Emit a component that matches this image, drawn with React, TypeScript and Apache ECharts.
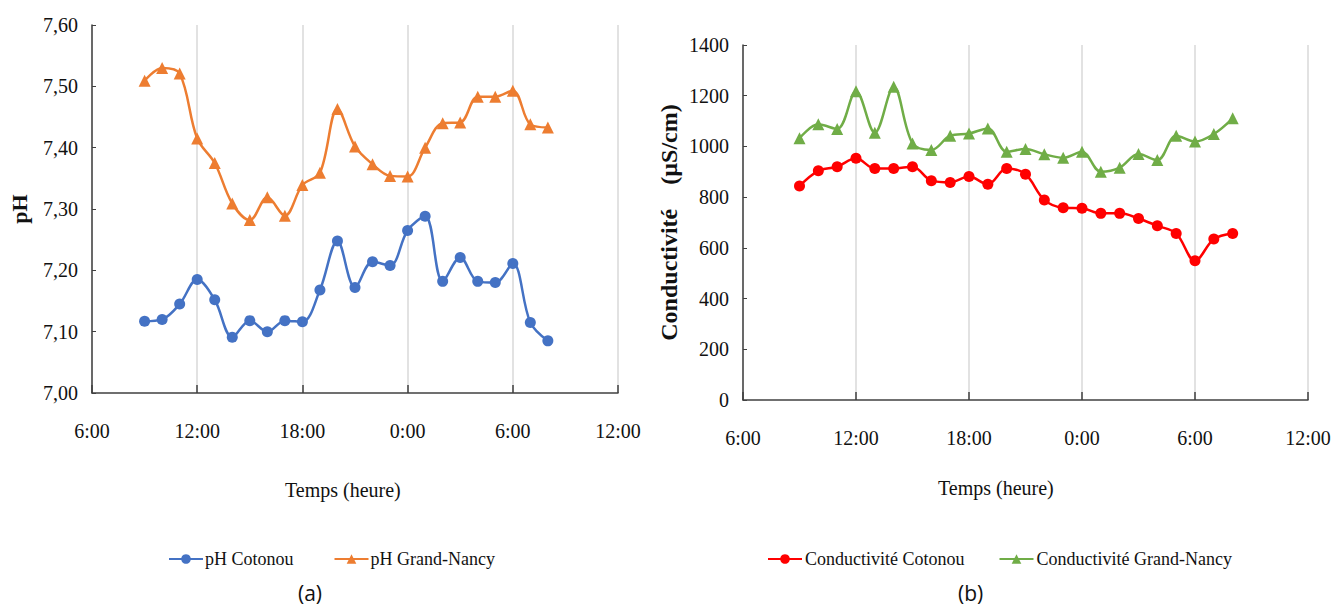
import React, { useEffect, useRef } from "react";
import * as echarts from "echarts";

const hours = [9, 10, 11, 12, 13, 14, 15, 16, 17, 18, 19, 20, 21, 22, 23, 24, 25, 26, 27, 28, 29, 30, 31, 32];
const phCotonou = [7.117, 7.12, 7.145, 7.185, 7.152, 7.091, 7.118, 7.10, 7.118, 7.116, 7.168, 7.248, 7.172, 7.214, 7.208, 7.265, 7.288, 7.182, 7.221, 7.182, 7.18, 7.211, 7.115, 7.085];
const phNancy = [7.509, 7.53, 7.521, 7.415, 7.375, 7.309, 7.282, 7.319, 7.289, 7.339, 7.359, 7.463, 7.402, 7.373, 7.354, 7.353, 7.40, 7.44, 7.441, 7.483, 7.483, 7.493, 7.438, 7.433];
const condCotonou = [844, 904, 920, 953, 913, 913, 920, 865, 858, 881, 851, 913, 890, 789, 758, 756, 736, 736, 716, 687, 657, 549, 635, 657];
const condNancy = [1032, 1087, 1069, 1218, 1054, 1235, 1012, 986, 1042, 1051, 1071, 979, 990, 969, 955, 979, 900, 916, 970, 946, 1042, 1019, 1049, 1111];

const SERIF = "'Liberation Serif', 'DejaVu Serif', serif";
const SANS = "'Open Sans', 'Liberation Sans', sans-serif";
const AXIS_COLOR = "#404040";

const pair = (vals: number[]) => hours.map((h, i) => [h, vals[i]]);

const xAxisBase = (gridIndex: number, margin: number) => ({
  type: "value" as const,
  gridIndex,
  min: 6,
  max: 36,
  interval: 6,
  axisLine: { show: true, lineStyle: { color: AXIS_COLOR, width: 1.5 } },
  axisTick: { show: true, inside: true, length: 8, lineStyle: { color: AXIS_COLOR, width: 1.5 } },
  axisLabel: {
    formatter: (v: number) => `${v % 24}:00`,
    fontFamily: SERIF,
    fontSize: 20,
    color: "#111",
    margin,
  },
  splitLine: { show: true, lineStyle: { color: "#d9d9d9", width: 1.5 } },
});

export default function App() {
  const ref = useRef<HTMLDivElement>(null);
  useEffect(() => {
    if (!ref.current) return;
    const chart = echarts.init(ref.current, null, { renderer: "svg" });
    chart.setOption({
      animation: false,
      backgroundColor: "#ffffff",
      grid: [
        { left: 92, top: 25, width: 526, height: 368 },
        { left: 743, top: 45, width: 565, height: 355 },
      ],
      xAxis: [xAxisBase(0, 28), xAxisBase(1, 28)],
      yAxis: [
        {
          type: "value",
          gridIndex: 0,
          min: 7,
          max: 7.6,
          interval: 0.1,
          name: "pH",
          nameLocation: "middle",
          nameGap: 62,
          nameTextStyle: { fontFamily: SERIF, fontSize: 22, fontWeight: "bold", color: "#111" },
          axisLine: { show: true, lineStyle: { color: AXIS_COLOR, width: 1.5 } },
          axisTick: { show: true, inside: true, length: 4, lineStyle: { color: AXIS_COLOR } },
          axisLabel: {
            formatter: (v: number) => v.toFixed(2).replace(".", ","),
            fontFamily: SERIF,
            fontSize: 20,
            color: "#111",
            margin: 14,
          },
          splitLine: { show: false },
        },
        {
          type: "value",
          gridIndex: 1,
          min: 0,
          max: 1400,
          interval: 200,
          name: "Conductivité    (µS/cm)",
          nameLocation: "middle",
          nameGap: 62,
          nameTextStyle: { fontFamily: SERIF, fontSize: 24, fontWeight: "bold", color: "#111" },
          axisLine: { show: true, lineStyle: { color: AXIS_COLOR, width: 1.5 } },
          axisTick: { show: true, inside: true, length: 4, lineStyle: { color: AXIS_COLOR } },
          axisLabel: {
            formatter: (v: number) => String(v),
            fontFamily: SERIF,
            fontSize: 20,
            color: "#111",
            margin: 14,
          },
          splitLine: { show: false },
        },
      ],
      legend: [
        {
          left: 163,
          top: 545,
          itemWidth: 34,
          itemHeight: 12,
          itemGap: 40,
          textStyle: { fontFamily: SERIF, fontSize: 18, color: "#111", padding: [0, 0, 0, -3] },
          data: ["pH Cotonou", "pH Grand-Nancy"],
        },
        {
          left: 762,
          top: 545,
          itemWidth: 34,
          itemHeight: 12,
          itemGap: 34,
          textStyle: { fontFamily: SERIF, fontSize: 18, color: "#111", padding: [0, 0, 0, -2] },
          data: ["Conductivité Cotonou", "Conductivité Grand-Nancy"],
        },
      ],
      graphic: [
        { type: "text", left: 285, top: 480, style: { text: "Temps (heure)", font: `20px ${SERIF}`, fill: "#111" } },
        { type: "text", left: 938, top: 478, style: { text: "Temps (heure)", font: `20px ${SERIF}`, fill: "#111" } },
        { type: "text", left: 298, top: 582, style: { text: "(a)", font: `21px ${SANS}`, fill: "#111" } },
        { type: "text", left: 958, top: 582, style: { text: "(b)", font: `21px ${SANS}`, fill: "#111" } },
      ],
      series: [
        {
          name: "pH Cotonou",
          type: "line",
          xAxisIndex: 0,
          yAxisIndex: 0,
          data: pair(phCotonou),
          smooth: 0.35,
          symbol: "circle",
          symbolSize: 11,
          lineStyle: { color: "#4472C4", width: 2.5 },
          itemStyle: { color: "#4472C4" },
        },
        {
          name: "pH Grand-Nancy",
          type: "line",
          xAxisIndex: 0,
          yAxisIndex: 0,
          data: pair(phNancy),
          smooth: 0.35,
          symbol: "triangle",
          symbolSize: 12,
          lineStyle: { color: "#ED7D31", width: 2.5 },
          itemStyle: { color: "#ED7D31" },
        },
        {
          name: "Conductivité Cotonou",
          type: "line",
          xAxisIndex: 1,
          yAxisIndex: 1,
          data: pair(condCotonou),
          smooth: 0.35,
          symbol: "circle",
          symbolSize: 11,
          lineStyle: { color: "#FF0000", width: 2.5 },
          itemStyle: { color: "#FF0000" },
        },
        {
          name: "Conductivité Grand-Nancy",
          type: "line",
          xAxisIndex: 1,
          yAxisIndex: 1,
          data: pair(condNancy),
          smooth: 0.35,
          symbol: "triangle",
          symbolSize: 12,
          lineStyle: { color: "#70AD47", width: 2.5 },
          itemStyle: { color: "#70AD47" },
        },
      ],
    });
    return () => chart.dispose();
  }, []);
  return (
    <div
      ref={ref}
      style={{ position: "fixed", left: 0, top: 0, width: 1334, height: 609, background: "#fff" }}
    />
  );
}
